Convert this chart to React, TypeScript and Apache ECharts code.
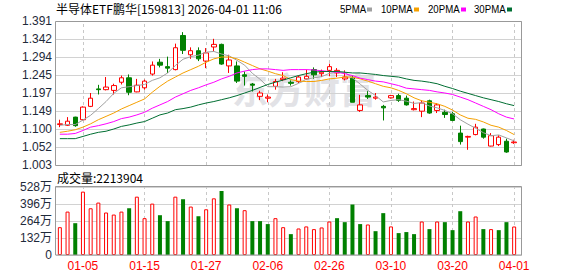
import React, { useEffect, useRef } from "react";
import * as echarts from "echarts";

const TITLE = "半导体ETF鹏华[159813] 2026-04-01 11:06";
const VOL_TITLE = "成交量:2213904";

const dates = [
  "12-29", "12-30", "12-31", "01-05", "01-06", "01-07", "01-08", "01-09", "01-12", "01-13",
  "01-14", "01-15", "01-16", "01-19", "01-20", "01-21", "01-22", "01-23", "01-26", "01-27",
  "01-28", "01-29", "01-30", "02-02", "02-03", "02-04", "02-05", "02-06", "02-09", "02-10",
  "02-11", "02-12", "02-13", "02-24", "02-25", "02-26", "02-27", "03-02", "03-03", "03-04",
  "03-05", "03-06", "03-09", "03-10", "03-11", "03-12", "03-13", "03-16", "03-17", "03-18",
  "03-19", "03-20", "03-23", "03-24", "03-25", "03-26", "03-27", "03-30", "03-31", "04-01",
];
const labeledDates = ["01-05", "01-15", "01-27", "02-06", "02-26", "03-10", "03-20", "04-01"];

const opens = [
  1.112, 1.110, 1.132, 1.125, 1.161, 1.208, 1.206, 1.204, 1.226, 1.238,
  1.200, 1.211, 1.248, 1.280, 1.268, 1.260, 1.352, 1.300, 1.311, 1.283,
  1.321, 1.328, 1.270, 1.270, 1.246, 1.221, 1.188, 1.183, 1.215, 1.233,
  1.226, 1.228, 1.235, 1.260, 1.249, 1.258, 1.251, 1.235, 1.237, 1.150,
  1.190, 1.183, 1.161, 1.184, 1.190, 1.183, 1.152, 1.148, 1.176, 1.150,
  1.145, 1.141, 1.089, 1.078, 1.085, 1.100, 1.054, 1.058, 1.067, 1.063,
];
const closes = [
  1.114, 1.121, 1.109, 1.159, 1.183, 1.206, 1.213, 1.217, 1.238, 1.199,
  1.218, 1.229, 1.272, 1.272, 1.264, 1.319, 1.312, 1.311, 1.289, 1.305,
  1.328, 1.275, 1.286, 1.229, 1.242, 1.218, 1.197, 1.186, 1.228, 1.237,
  1.223, 1.240, 1.242, 1.246, 1.253, 1.268, 1.258, 1.240, 1.172, 1.165,
  1.186, 1.186, 1.157, 1.190, 1.177, 1.165, 1.155, 1.170, 1.143, 1.165,
  1.139, 1.123, 1.066, 1.080, 1.105, 1.078, 1.082, 1.078, 1.038, 1.065,
];
const highs = [
  1.125, 1.132, 1.133, 1.161, 1.197, 1.219, 1.240, 1.222, 1.244, 1.247,
  1.235, 1.233, 1.282, 1.289, 1.295, 1.330, 1.361, 1.320, 1.320, 1.318,
  1.343, 1.330, 1.300, 1.282, 1.255, 1.224, 1.203, 1.193, 1.235, 1.253,
  1.231, 1.244, 1.260, 1.266, 1.260, 1.276, 1.264, 1.258, 1.244, 1.192,
  1.202, 1.197, 1.165, 1.192, 1.195, 1.190, 1.174, 1.177, 1.179, 1.170,
  1.152, 1.146, 1.109, 1.082, 1.114, 1.101, 1.089, 1.083, 1.074, 1.071,
];
const lows = [
  1.105, 1.108, 1.106, 1.123, 1.159, 1.193, 1.204, 1.193, 1.220, 1.191,
  1.199, 1.206, 1.244, 1.266, 1.251, 1.258, 1.302, 1.289, 1.283, 1.264,
  1.309, 1.273, 1.251, 1.224, 1.217, 1.201, 1.178, 1.172, 1.206, 1.229,
  1.217, 1.224, 1.233, 1.235, 1.240, 1.242, 1.240, 1.231, 1.172, 1.146,
  1.181, 1.179, 1.123, 1.182, 1.173, 1.163, 1.150, 1.132, 1.141, 1.143,
  1.130, 1.121, 1.058, 1.044, 1.083, 1.074, 1.053, 1.054, 1.036, 1.060,
];

const ma5 = [
  1.110, 1.112, 1.112, 1.124, 1.137, 1.155, 1.174, 1.196, 1.211, 1.214,
  1.217, 1.220, 1.231, 1.238, 1.251, 1.271, 1.288, 1.295, 1.299, 1.307,
  1.309, 1.302, 1.297, 1.285, 1.272, 1.250, 1.234, 1.214, 1.214, 1.213,
  1.214, 1.223, 1.234, 1.238, 1.241, 1.250, 1.253, 1.253, 1.238, 1.221,
  1.204, 1.190, 1.173, 1.177, 1.179, 1.175, 1.169, 1.171, 1.162, 1.157,
  1.150, 1.141, 1.125, 1.113, 1.102, 1.090, 1.082, 1.084, 1.076, 1.068,
];
const ma10 = [
  1.091, 1.094, 1.098, 1.105, 1.114, 1.125, 1.134, 1.143, 1.154, 1.163,
  1.172, 1.181, 1.199, 1.215, 1.229, 1.240, 1.251, 1.260, 1.269, 1.280,
  1.289, 1.294, 1.294, 1.289, 1.280, 1.271, 1.262, 1.256, 1.249, 1.244,
  1.233, 1.229, 1.228, 1.228, 1.231, 1.235, 1.237, 1.240, 1.240, 1.235,
  1.229, 1.222, 1.215, 1.211, 1.204, 1.195, 1.184, 1.176, 1.172, 1.168,
  1.161, 1.151, 1.138, 1.129, 1.126, 1.119, 1.110, 1.105, 1.096, 1.085,
];
const ma20 = [
  1.086, 1.086, 1.088, 1.096, 1.105, 1.109, 1.114, 1.120, 1.128, 1.132,
  1.138, 1.145, 1.156, 1.165, 1.174, 1.186, 1.195, 1.204, 1.211, 1.219,
  1.226, 1.235, 1.242, 1.251, 1.256, 1.260, 1.262, 1.262, 1.260, 1.258,
  1.260, 1.260, 1.260, 1.259, 1.257, 1.255, 1.253, 1.249, 1.244, 1.237,
  1.233, 1.229, 1.227, 1.222, 1.217, 1.210, 1.208, 1.206, 1.204, 1.200,
  1.197, 1.193, 1.186, 1.179, 1.170, 1.161, 1.152, 1.141, 1.132, 1.127,
];
const ma30 = [
  1.074, 1.074, 1.074, 1.080, 1.086, 1.091, 1.094, 1.100, 1.107, 1.111,
  1.116, 1.120, 1.129, 1.138, 1.143, 1.152, 1.155, 1.159, 1.165, 1.170,
  1.174, 1.179, 1.184, 1.190, 1.197, 1.204, 1.212, 1.220, 1.226, 1.232,
  1.238, 1.244, 1.249, 1.253, 1.255, 1.255, 1.255, 1.253, 1.251, 1.251,
  1.249, 1.247, 1.244, 1.242, 1.240, 1.235, 1.231, 1.229, 1.226, 1.222,
  1.215, 1.209, 1.202, 1.196, 1.190, 1.184, 1.179, 1.174, 1.168, 1.163,
];

const volumes = [
  2160000, 3370000, 2470000, 4920000, 3630000, 4070000, 3300000, 3140000, 3370000, 3630000,
  4530000, 2860000, 3990000, 3090000, 2630000, 4530000, 4330000, 3760000, 3010000, 3550000,
  4400000, 4970000, 3920000, 3630000, 3480000, 2630000, 2630000, 2400000, 2860000, 2160000,
  1620000, 2060000, 2220000, 2010000, 2140000, 2600000, 2860000, 2550000, 3920000, 2400000,
  2370000, 1850000, 3250000, 2220000, 1700000, 1780000, 1620000, 2600000, 2010000, 2600000,
  2550000, 1930000, 3400000, 2600000, 2990000, 2010000, 2010000, 1930000, 2550000, 2213904,
];
const volumeUp = [
  1, 1, 0, 1, 1, 1, 1, 1, 1, 0,
  1, 1, 1, 0, 0, 1, 0, 1, 0, 1,
  1, 0, 1, 0, 1, 0, 0, 0, 1, 1,
  0, 1, 1, 1, 1, 1, 0, 0, 0, 0,
  1, 0, 0, 1, 0, 0, 0, 1, 0, 1,
  0, 0, 0, 1, 1, 0, 1, 0, 0, 1,
];

const PRICE_MIN = 1.003;
const PRICE_MAX = 1.391;
const PRICE_STEP = 0.0485;
const priceTicks = ["1.003", "1.052", "1.100", "1.149", "1.197", "1.245", "1.294", "1.342", "1.391"];
const VOL_MAX = 5280000;
const VOL_STEP = 1320000;
const volTicks = ["0", "132万", "264万", "396万", "528万"];

const maNames = ["5PMA", "10PMA", "20PMA", "30PMA"];
const maColors = ["#a0a0a0", "#f5a000", "#ff00ff", "#006e32"];
const legendTextX = [340, 381, 428, 474];
const legendKeyX = [367, 414, 461, 507];

const RED = "#ff0000";
const GREEN = "#008000";
const FONT = 'Arial, "Liberation Sans", "Noto Sans CJK SC", sans-serif';
const CJK = '"Noto Sans CJK SC", Arial, sans-serif';

export default function App() {
  const ref = useRef<HTMLDivElement>(null);

  useEffect(() => {
    if (!ref.current) return;
    const chart = echarts.init(ref.current, undefined, { renderer: "svg" });

    const markLine = {
      silent: true,
      z: 1,
      symbol: ["none", "none"],
      label: { show: false },
      emphasis: { disabled: true },
      lineStyle: { type: [3, 3], color: "#c8c8c8", width: 1 },
      data: labeledDates.map((d) => ({ xAxis: d })),
    };

    const maData = [ma5, ma10, ma20, ma30];

    const legendGraphics: any[] = [];
    maNames.forEach((name, k) => {
      legendGraphics.push({
        type: "text",
        x: legendTextX[k],
        y: 9,
        scaleX: 0.84,
        silent: true,
        style: {
          text: name,
          fill: "#000",
          font: '11.5px Arial, "Liberation Sans", sans-serif',
          verticalAlign: "middle",
        },
      });
      legendGraphics.push({
        type: "rect",
        silent: true,
        shape: { x: legendKeyX[k], y: 7.5, width: 5, height: 4 },
        style: { fill: maColors[k] },
      });
    });

    const option: any = {
      animation: false,
      textStyle: { fontFamily: FONT },
      title: {
        text: TITLE,
        left: 56,
        top: 2,
        padding: 0,
        textStyle: { fontSize: 12, fontWeight: "normal", fontFamily: CJK, color: "#000" },
      },
      grid: [
        { left: 56, top: 21, width: 462, height: 144 },
        { left: 56, top: 187, width: 462, height: 68 },
        { left: 56, top: 21, width: 466, height: 144 },
        { left: 56, top: 187, width: 466, height: 68 },
      ],
      xAxis: [
        {
          type: "category",
          gridIndex: 0,
          data: dates,
          boundaryGap: true,
          axisLine: { show: false },
          axisTick: { show: false },
          axisLabel: { show: false },
          splitLine: { show: false },
        },
        {
          type: "category",
          gridIndex: 1,
          data: dates,
          boundaryGap: true,
          axisLine: { show: false },
          axisTick: { show: false },
          splitLine: { show: false },
          axisLabel: {
            show: true,
            interval: (_i: number, v: string) => labeledDates.includes(v),
            color: RED,
            fontSize: 12,
            margin: 5,
            fontFamily: FONT,
          },
        },
        { type: "value", gridIndex: 2, show: false, min: 0, max: 1 },
        { type: "value", gridIndex: 3, show: false, min: 0, max: 1 },
      ],
      yAxis: [
        { type: "value", gridIndex: 0, min: PRICE_MIN, max: PRICE_MAX, show: false },
        { type: "value", gridIndex: 1, min: 0, max: VOL_MAX, show: false },
        {
          type: "value",
          gridIndex: 2,
          min: PRICE_MIN,
          max: PRICE_MAX,
          interval: PRICE_STEP,
          axisLine: { show: false },
          axisTick: { show: false },
          axisLabel: {
            color: "#1e2a3a",
            fontSize: 12,
            margin: 4,
            formatter: (v: number) => priceTicks[Math.round((v - PRICE_MIN) / PRICE_STEP)] ?? "",
          },
          splitLine: { lineStyle: { color: "#d2d2d2", width: 1 } },
        },
        {
          type: "value",
          gridIndex: 3,
          min: 0,
          max: VOL_MAX,
          interval: VOL_STEP,
          axisLine: { show: false },
          axisTick: { show: false },
          axisLabel: {
            color: "#1e2a3a",
            fontSize: 12,
            margin: 4,
            fontFamily: FONT,
            formatter: (v: number) => volTicks[Math.round(v / VOL_STEP)] ?? "",
          },
          splitLine: { lineStyle: { color: "#d2d2d2", width: 1 } },
        },
      ],
      series: [
        {
          type: "candlestick",
          name: "K",
          xAxisIndex: 0,
          yAxisIndex: 0,
          barWidth: 5,
          data: dates.map((_, i) => [opens[i], closes[i], lows[i], highs[i]]),
          itemStyle: {
            color: "#ffffff",
            color0: GREEN,
            borderColor: RED,
            borderColor0: GREEN,
            borderWidth: 1,
          },
          markLine,
        },
        ...maNames.map((name, k) => ({
          type: "line",
          name,
          xAxisIndex: 0,
          yAxisIndex: 0,
          data: maData[k],
          symbol: "none",
          showSymbol: false,
          color: maColors[k],
          lineStyle: { color: maColors[k], width: 1 },
          z: 3,
        })),
        {
          type: "bar",
          name: "VOL",
          xAxisIndex: 1,
          yAxisIndex: 1,
          barWidth: 4,
          data: volumes.map((v, i) => ({
            value: v,
            itemStyle: volumeUp[i]
              ? { color: "#ffffff", borderColor: RED, borderWidth: 1 }
              : { color: GREEN, borderWidth: 0 },
          })),
          markLine,
        },
      ],
      graphic: [
        {
          type: "text",
          left: 232,
          top: 70,
          z: -1,
          silent: true,
          style: {
            text: "东方财富",
            fill: "#e2e2e6",
            font: 'bold 36px "Noto Sans CJK SC", sans-serif',
          },
        },
        {
          type: "text",
          left: 57,
          top: 171,
          silent: true,
          style: { text: VOL_TITLE, fill: "#000", font: '12px "Noto Sans CJK SC", sans-serif' },
        },
        ...legendGraphics,
        {
          type: "rect",
          silent: true,
          z: 10,
          shape: { x: 55.5, y: 21.5, width: 466, height: 144 },
          style: { fill: "none", stroke: "#999", lineWidth: 1 },
        },
        {
          type: "rect",
          silent: true,
          z: 10,
          shape: { x: 55.5, y: 186.5, width: 466, height: 68.5 },
          style: { fill: "none", stroke: "#999", lineWidth: 1 },
        },
      ],
    };

    chart.setOption(option);
    return () => chart.dispose();
  }, []);

  return (
    <div
      ref={ref}
      style={{ position: "fixed", left: 0, top: 0, width: 578, height: 276, background: "#fff" }}
    />
  );
}
